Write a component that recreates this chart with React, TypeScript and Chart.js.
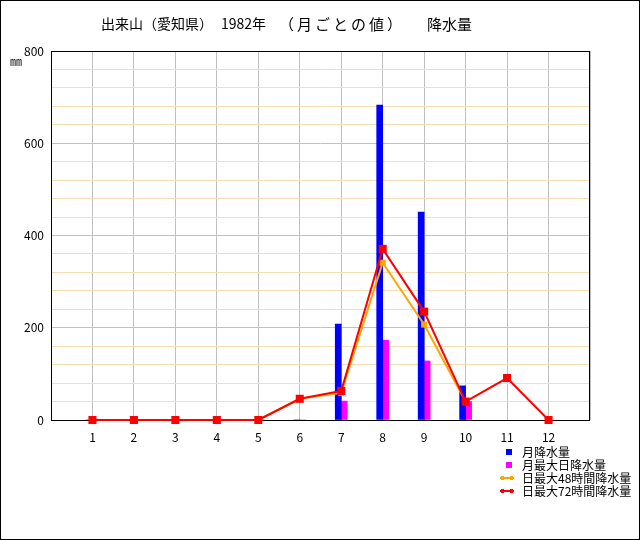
import React, { useEffect, useRef } from 'react';
import { Chart, registerables } from 'chart.js';

Chart.register(...registerables);

const TITLE_PARTS = ['出来山（愛知県）', '1982年', '（月ごとの値）', '降水量'];
const UNIT = '㎜';
const months = ['1', '2', '3', '4', '5', '6', '7', '8', '9', '10', '11', '12'];
const monthlyPrecip = [0, 0, 0, 0, 0, 0, 208, 683, 451, 74, null, null];
const maxDailyPrecip = [0, 0, 0, 0, 0, 0, 41, 173, 128, 40, null, null];
const max48hPrecip = [0, 0, 0, 0, 0, 46, 59, 341, 207, 40, null, null];
const max72hPrecip = [0, 0, 0, 0, 0, 46, 63, 371, 235, 40, 91, 0];
const yMax = 800;
const yStep = 40;
const yLabelStep = 200;
const seriesNames = ['月降水量', '月最大日降水量', '日最大48時間降水量', '日最大72時間降水量'];
const seriesColors = ['#0000ff', '#ff00ff', '#ffa500', '#ff0000'];

const FONT = '"Noto Sans CJK JP", sans-serif';

const decorPlugin = {
  id: 'decor',
  beforeDatasetsDraw(chart: any) {
    const { ctx, chartArea } = chart;
    const { left, right, top, bottom } = chartArea;
    ctx.save();
    ctx.strokeStyle = '#000';
    ctx.lineWidth = 1;
    ctx.strokeRect(Math.round(left) + 0.5, Math.round(top) + 0.5, Math.round(right - left) - 1, Math.round(bottom - top));
    ctx.restore();
  },
  afterDraw(chart: any) {
    const { ctx } = chart;
    ctx.save();
    ctx.strokeStyle = '#000';
    ctx.lineWidth = 1;
    ctx.strokeRect(0.5, 0.5, 639, 539);
    ctx.fillStyle = '#000';
    ctx.textBaseline = 'middle';
    ctx.textAlign = 'left';
    // title (in segments, like the original's spacing)
    ctx.font = '14px ' + FONT;
    ctx.fillText(TITLE_PARTS[0], 101, 24);
    ctx.fillText(TITLE_PARTS[1], 221, 24);
    ctx.font = '15px ' + FONT;
    (ctx as any).letterSpacing = '3px';
    ctx.fillText(TITLE_PARTS[2], 279, 24);
    (ctx as any).letterSpacing = '0px';
    ctx.fillText(TITLE_PARTS[3], 427, 24);
    // unit
    ctx.font = '12px ' + FONT;
    ctx.fillText(UNIT, 10, 61);
    // legend
    const lx = 506;
    const ys = [452, 465, 478, 491];
    seriesNames.forEach((name, i) => {
      const y = ys[i];
      ctx.fillStyle = seriesColors[i];
      if (i < 2) {
        ctx.fillRect(lx, y - 3, 6, 6);
      } else {
        ctx.fillRect(lx - 6, y - 1, 14, 2);
        ctx.fillRect(lx - 5, y - 2, 3, 4);
        ctx.fillRect(lx + 4, y - 2, 3, 4);
      }
      ctx.fillStyle = '#000';
      ctx.fillText(name, 522, y);
    });
    ctx.restore();
  },
};

export default function App() {
  const ref = useRef<HTMLCanvasElement>(null);
  useEffect(() => {
    const labels = ['', ...months, ''];
    const pad = (a: (number | null)[]) => [null, ...a, null];
    Chart.defaults.color = '#000';
    const chart = new Chart(ref.current as HTMLCanvasElement, {
      type: 'bar',
      data: {
        labels,
        datasets: [
          {
            type: 'line',
            label: seriesNames[3],
            data: pad(max72hPrecip),
            borderColor: seriesColors[3],
            backgroundColor: seriesColors[3],
            borderWidth: 2,
            pointStyle: 'rect',
            pointRadius: 5.7,
            pointBorderWidth: 0,
            order: 0,
            clip: false,
          } as any,
          {
            type: 'line',
            label: seriesNames[2],
            data: pad(max48hPrecip),
            borderColor: seriesColors[2],
            backgroundColor: seriesColors[2],
            borderWidth: 2,
            pointStyle: 'rect',
            pointRadius: 4.3,
            pointBorderWidth: 0,
            order: 1,
            clip: false,
          } as any,
          {
            type: 'bar',
            label: seriesNames[0],
            data: pad(monthlyPrecip),
            backgroundColor: seriesColors[0],
            borderWidth: 0,
            barThickness: 6,
            order: 2,
          } as any,
          {
            type: 'bar',
            label: seriesNames[1],
            data: pad(maxDailyPrecip),
            backgroundColor: seriesColors[1],
            borderWidth: 0,
            barThickness: 6,
            order: 3,
          } as any,
        ],
      },
      options: {
        responsive: false,
        animation: false,
        devicePixelRatio: 1,
        layout: { padding: { left: 0, top: 51, right: 50, bottom: 0 } },
        plugins: { legend: { display: false }, tooltip: { enabled: false }, title: { display: false } },
        scales: {
          x: {
            type: 'category',
            offset: false,
            grid: { offset: false, color: '#c0c0c0', drawTicks: false, lineWidth: 1 },
            border: { display: false },
            ticks: { autoSkip: false, maxRotation: 0, padding: 10, font: { family: FONT, size: 12 }, color: '#000' },
            afterFit: (s: any) => { s.height = 120; },
          },
          y: {
            min: 0,
            max: yMax,
            grid: {
              drawTicks: false,
              color: (c: any) => (c.tick && c.tick.value % yLabelStep === 0 ? '#c0c0c0' : '#f5deb3'),
            },
            border: { display: false },
            ticks: {
              stepSize: yStep,
              padding: 7,
              font: { family: FONT, size: 12 },
              color: '#000',
              callback: (v: any) => (Number(v) % yLabelStep === 0 ? String(v) : ''),
            },
            afterFit: (s: any) => { s.width = 51; },
          },
        },
      },
      plugins: [decorPlugin],
    } as any);
    return () => chart.destroy();
  }, []);
  return (
    <div style={{ position: 'absolute', left: 0, top: 0, width: 640, height: 540, background: '#fff' }}>
      <canvas ref={ref} width={640} height={540} style={{ display: 'block' }} />
    </div>
  );
}
